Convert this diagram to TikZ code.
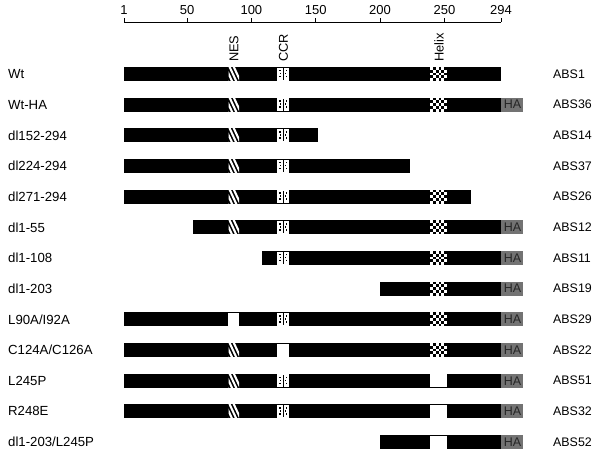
\documentclass[tikz,border=0pt]{standalone}
\usepackage{fontspec}
\setmainfont{Liberation Sans}
\definecolor{hagray}{HTML}{737373}
\definecolor{hatext}{HTML}{262626}
\tikzset{
  lbl/.style={anchor=west,inner sep=0pt,font=\fontsize{13.2}{15}\selectfont},
  abslbl/.style={anchor=west,inner sep=0pt,font=\fontsize{12.4}{14}\selectfont},
  ticklbl/.style={anchor=center,inner sep=0pt,font=\fontsize{13}{15}\selectfont},
  domlbl/.style={anchor=west,rotate=90,inner sep=0pt,font=\fontsize{12.8}{15}\selectfont},
  halbl/.style={anchor=center,inner sep=0pt,text=hatext,font=\fontsize{12.5}{14}\selectfont},
}
% domain boxes (use \yy as row centre)
\newcommand\nesS{%
  \begin{scope}
    \clip (228.5,\yy-7) rectangle (239,\yy+7);
    \foreach \k in {-7.5,-3.3,0.9,5.1}
      \draw[white,line width=2.1pt] ({228.5+\k},\yy-7.5) -- ({235.5+\k},\yy+7.5);
  \end{scope}}
\newcommand\nesW{\fill[white] (228,\yy-6.5) rectangle (239,\yy+6.5);}
\newcommand\ccrP{%
  \fill[white] (277,\yy-6.5) rectangle (289,\yy+6.5);
  \fill[black] (282.7,\yy-6) rectangle (283.5,\yy+6);
  \foreach \dx/\dy in {279.8/-3.5,286.4/-3.5,279.8/2.5,286.4/2.5,280.5/-0.5,285.7/-0.5}
    \fill[black] (\dx-0.7,\yy+\dy-0.7) rectangle (\dx+0.7,\yy+\dy+0.7);}
\newcommand\ccrW{\fill[white] (277,\yy-6.5) rectangle (289,\yy+6.5);}
\newcommand\helC{%
  \fill[white] (430,\yy-7) rectangle (447,\yy+7);
  \foreach \c in {0,...,5}
    \foreach \r in {0,...,4}{
      \pgfmathtruncatemacro\cpar{mod(\c+\r,2)}
      \ifnum\cpar=1
        \fill[black] ({430+\c*17/6},{\yy-7+\r*2.8}) rectangle ({430+(\c+1)*17/6},{\yy-7+(\r+1)*2.8});
      \fi}}
\newcommand\helW{\fill[white] (430,\yy-6.5) rectangle (447,\yy+6.5);}
\newcommand\hatag[1]{%
  \fill[hagray] (501,\yy-7) rectangle (523,\yy+7);
  \node[halbl] (ha#1) at (512.5,\yy) {HA};}
% row: index, label, x start, x end, NES, CCR, Helix, HA(y/n), ABS
\newcommand\protrow[9]{%
  \pgfmathsetmacro\yy{74+30.67*#1}
  \node[lbl] (L#1) at (8,\yy) {#2};
  \fill[black] (#3,\yy-7) rectangle (#4,\yy+7);
  #5 #6 #7
  \if y#8 \hatag{#1}\fi
  \node[abslbl] (A#1) at (553,\yy) {#9};}
\begin{document}
\begin{tikzpicture}[x=1pt,y=-1pt]
\useasboundingbox (0,0) rectangle (600,455);
% scale
\draw[line width=0.8pt] (124,22) -- (501,22);
\foreach \n/\t in {1/1,50/50,100/100,150/150,200/200,250/250,294/294}{
  \pgfmathsetmacro\xx{124+(\n-1)*1.2867}
  \draw[line width=0.8pt] (\xx,22) -- (\xx,17.5);
  \node[ticklbl] (t\n) at (\xx,10) {\t};
}
% domain labels
\node[domlbl] (nes) at (234,62) {NES};
\node[domlbl] (ccr) at (283.5,62) {CCR};
\node[domlbl] (helix) at (439,62) {Helix};
% rows
\protrow{0}{Wt}{124}{501}{\nesS}{\ccrP}{\helC}{n}{ABS1}
\protrow{1}{Wt-HA}{124}{501}{\nesS}{\ccrP}{\helC}{y}{ABS36}
\protrow{2}{dl152-294}{124}{318}{\nesS}{\ccrP}{}{n}{ABS14}
\protrow{3}{dl224-294}{124}{410}{\nesS}{\ccrP}{}{n}{ABS37}
\protrow{4}{dl271-294}{124}{471}{\nesS}{\ccrP}{\helC}{n}{ABS26}
\protrow{5}{dl1-55}{193}{501}{\nesS}{\ccrP}{\helC}{y}{ABS12}
\protrow{6}{dl1-108}{262}{501}{}{\ccrP}{\helC}{y}{ABS11}
\protrow{7}{dl1-203}{380}{501}{}{}{\helC}{y}{ABS19}
\protrow{8}{L90A/I92A}{124}{501}{\nesW}{\ccrP}{\helC}{y}{ABS29}
\protrow{9}{C124A/C126A}{124}{501}{\nesS}{\ccrW}{\helC}{y}{ABS22}
\protrow{10}{L245P}{124}{501}{\nesS}{\ccrP}{\helW}{y}{ABS51}
\protrow{11}{R248E}{124}{501}{\nesS}{\ccrP}{\helW}{y}{ABS32}
\protrow{12}{dl1-203/L245P}{380}{501}{}{}{\helW}{y}{ABS52}
\end{tikzpicture}
\end{document}
